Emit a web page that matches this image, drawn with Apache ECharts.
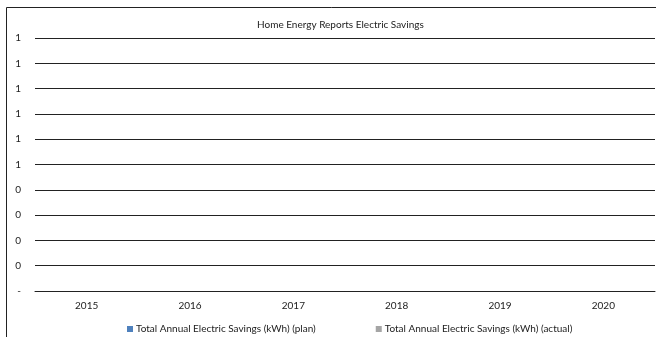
<!DOCTYPE html>
<html>
<head>
<meta charset="utf-8">
<script src="https://cdn.jsdelivr.net/npm/echarts@6/dist/echarts.min.js"></script>
<style>
  html, body { margin: 0; padding: 0; background: #fff; }
  #chart { width: 658px; height: 337px; }
</style>
</head>
<body>
<div id="chart"></div>
<script>
// Reporting years on the category axis
const years = ['2015', '2016', '2017', '2018', '2019', '2020'];
// Annual electric savings per year (kWh)
const planSavings = [0, 0, 0, 0, 0, 0];
const actualSavings = [0, 0, 0, 0, 0, 0];
const seriesNames = [
  'Total Annual Electric Savings (kWh) (plan)',
  'Total Annual Electric Savings (kWh) (actual)'
];

const font = 'Lato, "Open Sans", sans-serif';
const chart = echarts.init(document.getElementById('chart'), null, { renderer: 'canvas' });

chart.setOption({
  animation: false,
  backgroundColor: '#fff',
  textStyle: { fontFamily: font },
  title: {
    text: 'Home Energy Reports Electric Savings',
    left: 252,
    top: 15,
    textStyle: { fontSize: 10, fontWeight: 'normal', color: '#222', fontFamily: font }
  },
  legend: {
    left: 122,
    top: 319,
    itemWidth: 6,
    itemHeight: 6,
    itemGap: 60,
    icon: 'rect',
    textStyle: { fontSize: 10, color: '#222', fontFamily: font, padding: [0, 0, 0, -2] },
    data: seriesNames
  },
  grid: { left: 35, right: 3, top: 38, bottom: 46, containLabel: false },
  xAxis: {
    type: 'category',
    data: years,
    axisTick: { show: false },
    axisLine: { lineStyle: { color: '#222', width: 1 } },
    axisLabel: { fontSize: 10, color: '#222', margin: 10, fontFamily: font }
  },
  yAxis: {
    type: 'value',
    min: 0,
    max: 1,
    interval: 0.1,
    axisLine: { show: false },
    axisTick: { show: false },
    splitLine: { lineStyle: { color: '#222', width: 1 } },
    axisLabel: {
      fontSize: 10,
      color: '#222',
      margin: 14,
      fontFamily: font,
      formatter: function (v) {
        const r = Math.round(v * 10) / 10;
        return r === 0 ? '-' : String(Math.round(r));
      }
    }
  },
  series: [
    { name: seriesNames[0], type: 'bar', data: planSavings, itemStyle: { color: '#4F81BD' } },
    { name: seriesNames[1], type: 'bar', data: actualSavings, itemStyle: { color: '#A5A5A5' } }
  ],
  graphic: [{
    type: 'polyline',
    shape: { points: [[6.5, 337], [6.5, 7.5], [656, 7.5]] },
    style: { stroke: '#222', lineWidth: 1, fill: null },
    silent: true
  }]
});
</script>
</body>
</html>
